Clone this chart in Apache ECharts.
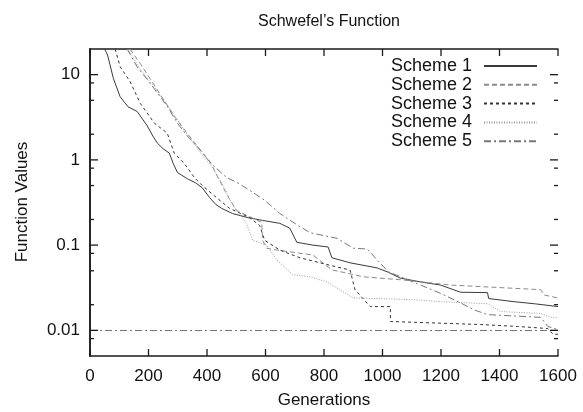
<!DOCTYPE html>
<html>
<head>
<meta charset="utf-8">
<script src="https://cdn.jsdelivr.net/npm/echarts@6/dist/echarts.min.js"></script>
<style>html,body{margin:0;padding:0;background:#fff}#c{width:583px;height:412px}</style>
</head>
<body>
<div id="c"></div>
<script>
const titleText = 'Schwefel\u2019s Function';
const xName = 'Generations';
const yName = 'Function Values';
const seriesNames = ['Scheme 1', 'Scheme 2', 'Scheme 3', 'Scheme 4', 'Scheme 5'];
const xTicks = [0, 200, 400, 600, 800, 1000, 1200, 1400, 1600];
const yMajorTicks = [0.01, 0.1, 1, 10];
const yMinorTicks = [0.008, 0.02, 0.05, 0.08, 0.2, 0.5, 0.8, 2, 5, 8];
const referenceValue = 0.01;

const scheme1 = [[50,20],[60,17],[80,9],[103,5.5],[130,4.2],[161,3.7],[180,3.0],[196,2.5],[215,1.9],[230,1.58],[250,1.35],[271,1.2],[285,0.9],[299,0.71],[333,0.60],[360,0.54],[384,0.47],[409,0.36],[430,0.3],[450,0.27],[487,0.235],[540,0.21],[590,0.195],[649,0.18],[683,0.158],[707,0.108],[762,0.1],[814,0.095],[827,0.071],[889,0.062],[982,0.054],[1020,0.048],[1061,0.041],[1130,0.037],[1198,0.034],[1267,0.028],[1359,0.0277],[1363,0.0236],[1449,0.0217],[1520,0.0205],[1600,0.019]];
const scheme2 = [[137,20],[175,13],[210,8.5],[250,5.2],[290,3.2],[330,2.1],[370,1.4],[410,0.95],[440,0.6],[470,0.38],[501,0.255],[540,0.22],[587,0.185],[590,0.114],[604,0.092],[639,0.0875],[762,0.0765],[814,0.0555],[830,0.051],[934,0.0425],[1071,0.039],[1232,0.034],[1541,0.030],[1552,0.026],[1600,0.024]];
const scheme3 = [[86,20],[103,12.4],[137,8.3],[172,4.6],[220,2.7],[264,2.06],[288,1.2],[323,0.9],[357,0.62],[384,0.5],[433,0.36],[477,0.27],[546,0.21],[580,0.17],[597,0.114],[649,0.0875],[718,0.071],[820,0.058],[889,0.051],[906,0.030],[958,0.019],[1027,0.019],[1027,0.0127],[1335,0.0117],[1462,0.0111],[1565,0.0105],[1583,0.009],[1600,0.009]];
const scheme4 = [[132,20],[168,12],[215,7.5],[260,4.6],[300,2.9],[340,1.8],[375,1.25],[420,0.8],[455,0.5],[487,0.3],[535,0.18],[556,0.114],[604,0.1],[639,0.067],[693,0.045],[752,0.0425],[810,0.037],[900,0.024],[1095,0.023],[1198,0.0217],[1360,0.0205],[1404,0.0166],[1541,0.0158],[1576,0.0142],[1600,0.014]];
const scheme5 = [[127,20],[161,12.4],[206,7.9],[264,4.25],[299,2.7],[333,1.9],[360,1.53],[415,0.9],[467,0.62],[500,0.55],[546,0.44],[600,0.33],[649,0.235],[700,0.18],[752,0.14],[845,0.12],[900,0.092],[948,0.09],[982,0.067],[1020,0.0486],[1080,0.04],[1130,0.034],[1200,0.027],[1267,0.021],[1311,0.0175],[1359,0.0153],[1541,0.0142],[1565,0.0111],[1600,0.0102]];

const allData = [scheme1, scheme2, scheme3, scheme4, scheme5];
const styles = [
  {color: '#3a3a3a', type: 'solid'},
  {color: '#8a8a8a', type: [5, 3]},
  {color: '#333333', type: [3, 3]},
  {color: '#9a9a9a', type: [1, 1.5]},
  {color: '#777777', type: [7, 3, 2, 3]}
];
const FONT = 'Liberation Sans, Arial, sans-serif';
const axisColor = '#1a1a1a';
const X_MIN = 0, X_MAX = 1600, Y_MIN = 0.005, Y_MAX = 20;

function fmt(v) {
  const r = Number(Number(v).toPrecision(6));
  return yMajorTicks.some(t => Math.abs(t - r) < 1e-9) ? String(r) : '';
}

function yAxisDef(pos, showLabel) {
  return {
    type: 'log', logBase: 10, min: Y_MIN, max: Y_MAX, position: pos,
    axisLine: {show: true, lineStyle: {color: axisColor, width: 1.5}},
    axisTick: {show: false},
    axisLabel: {show: showLabel, formatter: fmt, fontSize: 17, color: '#111', fontFamily: FONT, margin: 10},
    splitLine: {show: false},
    minorTick: {show: false}
  };
}
function xAxisDef(pos, showLabel) {
  return {
    type: 'value', min: X_MIN, max: X_MAX, interval: 200, position: pos,
    axisLine: {show: true, onZero: false, lineStyle: {color: axisColor, width: 1.5}},
    axisTick: {show: false},
    axisLabel: {show: showLabel, fontSize: 17, color: '#111', fontFamily: FONT, margin: 12,
      formatter: v => String(v)},
    splitLine: {show: false}
  };
}

// tick specification list: [axis, value, length]
const tickSpecs = []
  .concat(xTicks.map(v => ['x', v, 7]))
  .concat(yMajorTicks.map(v => ['y', v, 8]))
  .concat(yMinorTicks.map(v => ['y', v, 4]));

const series = seriesNames.map((name, i) => ({
  name: name, type: 'line', data: allData[i], xAxisIndex: 0, yAxisIndex: 0,
  symbol: 'none', showSymbol: false, clip: true, animation: false,
  lineStyle: {color: styles[i].color, width: 1, type: styles[i].type},
  itemStyle: {color: styles[i].color}
}));
series[4].markLine = {
  silent: true, symbol: 'none', animation: false, label: {show: false},
  lineStyle: {color: styles[4].color, width: 1, type: styles[4].type},
  data: [{yAxis: referenceValue}]
};
series.push({
  name: 'ticks', type: 'custom', xAxisIndex: 0, yAxisIndex: 0, silent: true, clip: false,
  animation: false, z: 10,
  data: tickSpecs.map(() => [X_MIN, 1]),
  renderItem: function (params, api) {
    const spec = tickSpecs[params.dataIndex];
    const st = {stroke: axisColor, lineWidth: 1.3};
    let a, b, c, d;
    if (spec[0] === 'x') {
      const p1 = api.coord([spec[1], Y_MIN]);
      const p2 = api.coord([spec[1], Y_MAX]);
      a = {x1: p1[0], y1: p1[1], x2: p1[0], y2: p1[1] - spec[2]};
      b = {x1: p2[0], y1: p2[1], x2: p2[0], y2: p2[1] + spec[2]};
    } else {
      const p1 = api.coord([X_MIN, spec[1]]);
      const p2 = api.coord([X_MAX, spec[1]]);
      a = {x1: p1[0], y1: p1[1], x2: p1[0] + spec[2], y2: p1[1]};
      b = {x1: p2[0], y1: p2[1], x2: p2[0] - spec[2], y2: p2[1]};
    }
    return {type: 'group', children: [
      {type: 'line', shape: a, style: st},
      {type: 'line', shape: b, style: st}
    ]};
  }
});

const chart = echarts.init(document.getElementById('c'), null, {renderer: 'canvas'});
chart.setOption({
  animation: false,
  backgroundColor: '#fff',
  title: {text: titleText, left: 324, top: 9, textAlign: 'center',
    textStyle: {fontSize: 16, fontWeight: 'normal', color: '#111', fontFamily: FONT}},
  grid: {left: 90, right: 25, top: 49, bottom: 56, containLabel: false},
  legend: {
    orient: 'vertical', right: 40, top: 52, align: 'right',
    itemWidth: 53, itemHeight: 10, itemGap: 0.8,
    itemStyle: {color: 'rgba(0,0,0,0)', borderColor: 'rgba(0,0,0,0)', borderWidth: 0},
    textStyle: {fontSize: 18, color: '#111', fontFamily: FONT, lineHeight: 18, padding: [0, 7, 0, 0]},
    data: seriesNames
  },
  xAxis: [xAxisDef('bottom', true), xAxisDef('top', false)],
  yAxis: [yAxisDef('left', true), yAxisDef('right', false)],
  graphic: [
    {type: 'text', x: 324, y: 400, style: {text: xName, fill: '#111', font: '17px ' + FONT, align: 'center', verticalAlign: 'middle'}},
    {type: 'text', x: 22, y: 202, rotation: Math.PI / 2, style: {text: yName, fill: '#111', font: '17px ' + FONT, align: 'center', verticalAlign: 'middle'}}
  ],
  series: series
});
</script>
</body>
</html>
